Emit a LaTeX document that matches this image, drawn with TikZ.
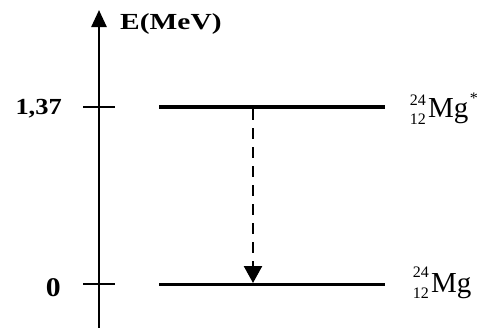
\documentclass[tikz,border=0pt]{standalone}
\usepackage{fontspec}
\usepackage{graphicx}
\setmainfont{Liberation Serif}
\usetikzlibrary{arrows.meta}
\begin{document}
\begin{tikzpicture}[x=1pt,y=-1pt,
  lbl/.style={font=\fontsize{23}{23}\selectfont\bfseries, inner sep=0pt},
  nuc/.style={font=\fontsize{29}{29}\selectfont, inner sep=0pt},
  scr/.style={font=\fontsize{16}{16}\selectfont, inner sep=0pt},
  axisline/.style={line width=2.5pt, -{Triangle[length=17pt,width=15pt]}},
  tickline/.style={line width=1.7pt},
  upperlevel/.style={line width=4.2pt},
  groundlevel/.style={line width=3pt},
  dasharrow/.style={line width=2.5pt, dash pattern=on 11pt off 8pt, -{Triangle[length=17pt,width=18pt]}}]
\useasboundingbox (0,0) rectangle (493,327);
% axis
\coordinate (ab) at (99,330);
\coordinate (at) at (99,10);
\draw[axisline] (ab) -- (at);
\node[lbl, anchor=base west] (E) at (120,29) {\scalebox{1.28}[1]{E(MeV)}};
% ticks
\coordinate (t1l) at (83,107);
\coordinate (t1r) at (115,107);
\coordinate (t0l) at (83,284);
\coordinate (t0r) at (115,284);
\draw[tickline] (t1l) -- (t1r);
\draw[tickline] (t0l) -- (t0r);
\node[lbl, anchor=base east] (v137) at (62,114.5) {\scalebox{1.15}[1]{1,37}};
\node[lbl, font=\fontsize{27}{27}\selectfont\bfseries, anchor=base east] (v0) at (61,296) {\scalebox{1.1}[1]{0}};
% levels
\coordinate (u1) at (159,107);
\coordinate (u2) at (385,107);
\coordinate (g1) at (159,284);
\coordinate (g2) at (385,284);
\draw[upperlevel] (u1) -- (u2);
\draw[groundlevel] (g1) -- (g2);
% transition
\coordinate (dtop) at (253,109);
\coordinate (dbot) at (253,283);
\draw[dasharrow] (dtop) -- (dbot);
% labels
\node[nuc, anchor=base west] (mgu) at (428,117) {Mg};
\node[scr, anchor=base east] (au) at (426,105) {24};
\node[scr, anchor=base east] (zu) at (426,124) {12};
\node[scr, anchor=base west] (su) at (mgu.base east) [yshift=14pt, xshift=1pt] {*};
\node[nuc, anchor=base west] (mgg) at (431,292) {Mg};
\node[scr, anchor=base east] (ag) at (429,277) {24};
\node[scr, anchor=base east] (zg) at (429,298) {12};
\end{tikzpicture}
\end{document}
